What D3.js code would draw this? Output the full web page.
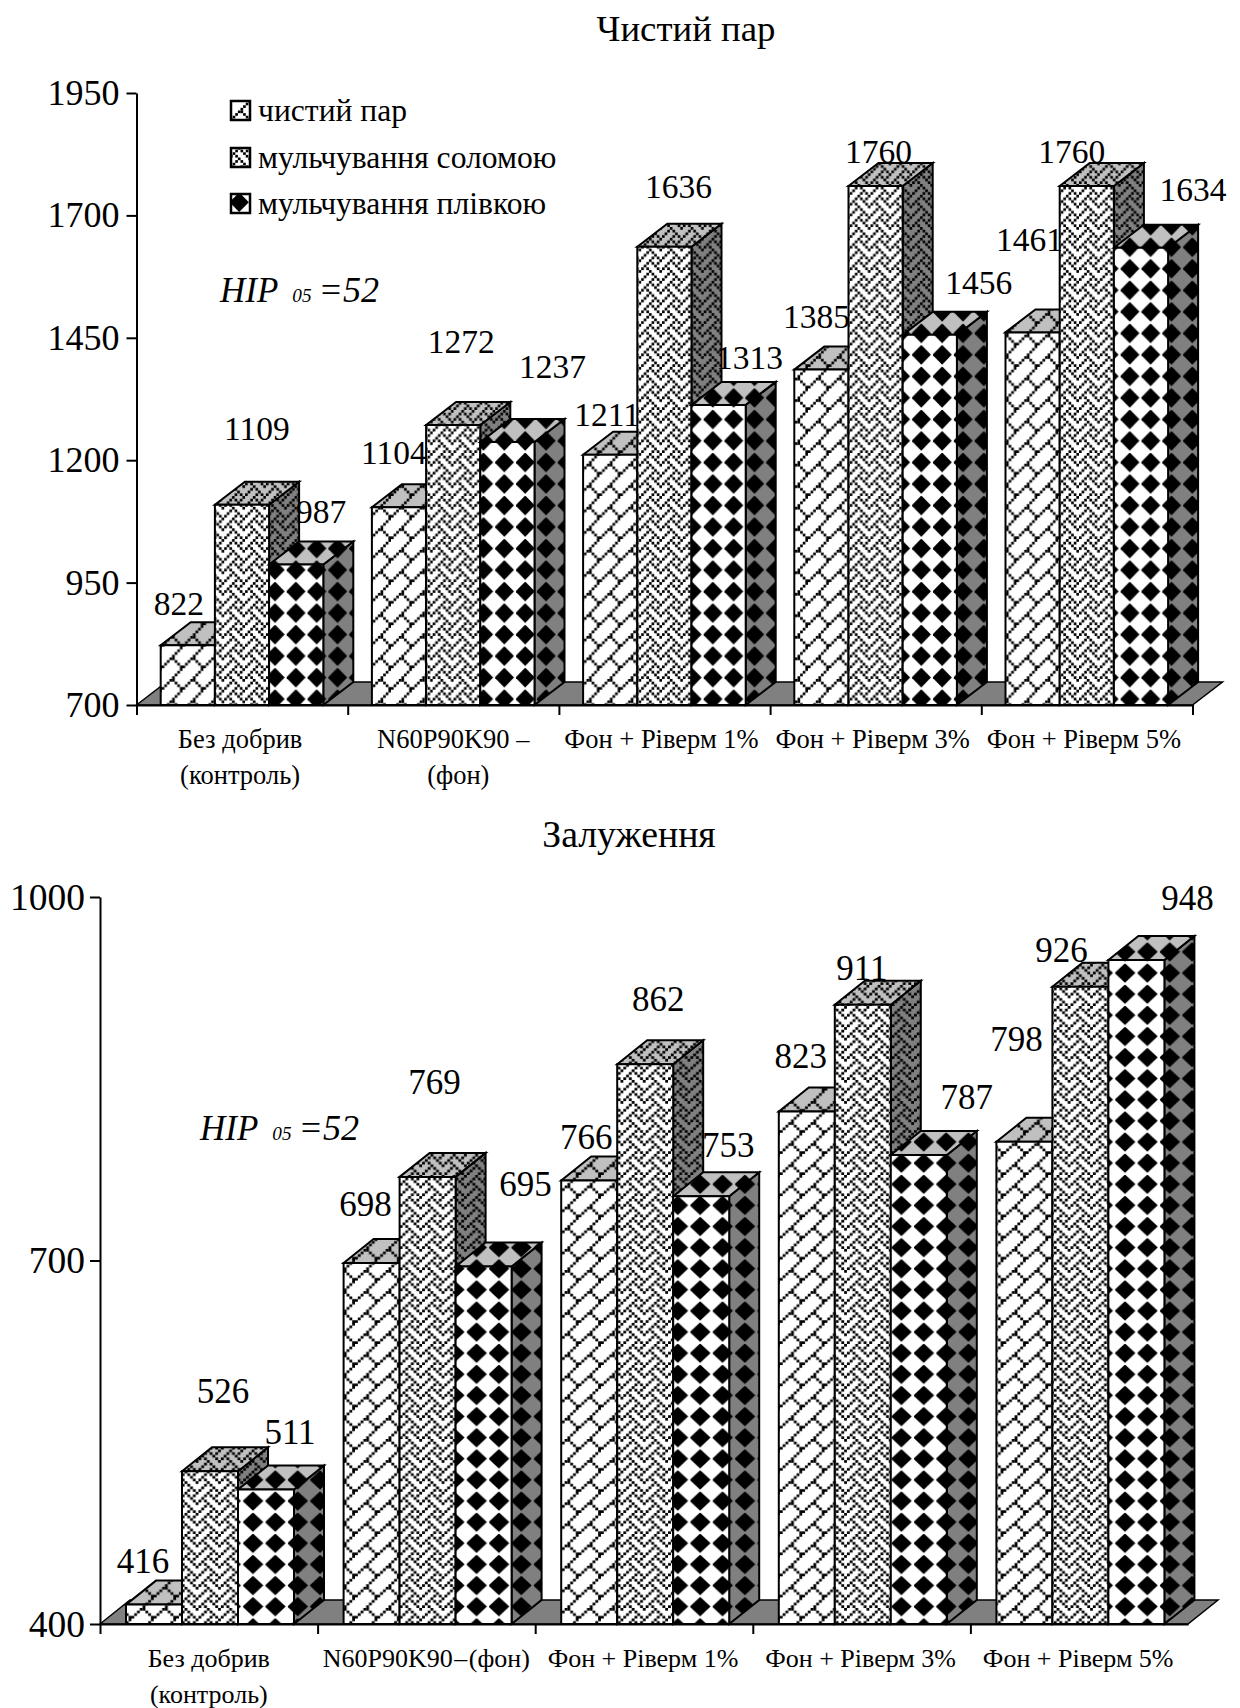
<!DOCTYPE html>
<html>
<head>
<meta charset="utf-8">
<style>
  html, body { margin: 0; background: #fff; }
  text { font-family: "Liberation Serif", serif; fill: #000; }
</style>
</head>
<body>
<svg id="chart" width="1240" height="1708"></svg>
<script src="https://cdn.jsdelivr.net/npm/d3@7"></script>
<script>
let seriesNames = ['чистий пар', 'мульчування соломою', 'мульчування плівкою'];

let categoriesTop = [['Без добрив', '(контроль)'], ['N60P90K90 –', '(фон)'], ['Фон + Ріверм 1%'], ['Фон + Ріверм 3%'], ['Фон + Ріверм 5%']];
let categoriesBottom = [['Без добрив', '(контроль)'], ['N60P90K90 – (фон)'], ['Фон + Ріверм 1%'], ['Фон + Ріверм 3%'], ['Фон + Ріверм 5%']];

let cleanFallowTop = [822, 1104, 1211, 1385, 1461];
let strawTop = [1109, 1272, 1636, 1760, 1760];
let filmTop = [987, 1237, 1313, 1456, 1634];

let cleanFallowBottom = [416, 698, 766, 823, 798];
let strawBottom = [526, 769, 862, 911, 926];
let filmBottom = [511, 695, 753, 787, 948];

let ticksTop = [700, 950, 1200, 1450, 1700, 1950];
let ticksBottom = [400, 700, 1000];

// hand placed data labels, offset from the middle of the front face top edge
let nudgesTop = [
  [[-9, -42], [-5, -55], [-3, -41], [-5, -53], [-3, -93]],
  [[15, -76], [8, -84], [14, -60], [3, -35], [-15, -35]],
  [[25, -53], [45, -76], [31, -48], [49, -53], [52, -58]]
];
let nudgesBottom = [
  [[-11, -44], [-6, -59], [-3, -44], [-6, -56], [-8, -103]],
  [[13, -81], [7, -95], [13, -65], [-1, -37], [-19, -37]],
  [[24, -58], [42, -83], [27, -52], [48, -58], [51, -62]]
];

// 8x8 office hatch bitmaps, the diamond one is drawn as a polygon instead
let brickBits = [0x01, 0x02, 0x04, 0x08, 0x18, 0x24, 0x42, 0x81];
let weaveBits = [0x11, 0x2A, 0x44, 0xA2, 0x11, 0x28, 0x44, 0x8A];
let hatches = [brickBits, weaveBits, null];

let $svg = d3.select('#chart');
let $defs = $svg.append('defs');

$defs.append('filter')
  .attr('id', 'soft')
  .attr('x', '-5%').attr('y', '-5%').attr('width', '110%').attr('height', '110%')
  .append('feGaussianBlur')
  .attr('stdDeviation', 0.75);

function addPattern(id, bits, bg, cellX, cellY, originX, originY) {
  let $p = $defs.append('pattern')
    .attr('id', id)
    .attr('patternUnits', 'userSpaceOnUse')
    .attr('width', cellX * 8)
    .attr('height', cellY * 8)
    .attr('patternTransform', `translate(${originX},${originY})`);

  $p.append('rect')
    .attr('width', cellX * 8)
    .attr('height', cellY * 8)
    .attr('fill', bg);

  if (!bits) {
    let half = 3.7;
    $p.append('path')
      .attr('d', d3.line()([
        [3.5 * cellX, (3.5 - half) * cellY],
        [(3.5 + half) * cellX, 3.5 * cellY],
        [3.5 * cellX, (3.5 + half) * cellY],
        [(3.5 - half) * cellX, 3.5 * cellY]
      ]) + 'Z')
      .attr('fill', '#000');
    return;
  }

  bits.forEach((row, r) => {
    d3.range(8).forEach(c => {
      if (row & (0x80 >> c)) {
        $p.append('rect')
          .attr('x', c * cellX)
          .attr('y', r * cellY)
          .attr('width', cellX + 0.05)
          .attr('height', cellY + 0.05)
          .attr('fill', '#000');
      }
    });
  });
}

function drawChart(cfg) {
  let $g = $svg.append('g');

  let x0 = d3.scaleBand()
    .domain(d3.range(cfg.categories.length))
    .range([cfg.left, cfg.right]);

  let x1 = d3.scaleBand()
    .domain(d3.range(cfg.series.length))
    .range([cfg.barInset, cfg.barInset + cfg.barWidth * cfg.series.length]);

  let y = d3.scaleLinear()
    .domain(d3.extent(cfg.ticks))
    .range([cfg.base, cfg.top]);

  let tickPos = d3.scaleLinear()
    .domain([0, cfg.categories.length])
    .range([cfg.left, cfg.right]);

  // one set of patterns per face shade
  cfg.series.forEach((s, i) => {
    let org = cfg.patternOrigin;
    addPattern(`${cfg.id}-front-${i}`, hatches[i], '#fff', cfg.cellX, cfg.cellY, org[0], org[1]);
    addPattern(`${cfg.id}-top-${i}`, hatches[i], '#c0c0c0', cfg.cellX, cfg.cellY, org[0], org[1]);
    addPattern(`${cfg.id}-side-${i}`, hatches[i], '#808080', cfg.cellX, cfg.cellY, org[0], org[1]);
  });

  // floor
  $g.append('path')
    .attr('d', d3.line()([
      [cfg.left, cfg.base],
      [cfg.left + cfg.depthX, cfg.base - cfg.depthY],
      [cfg.right + cfg.depthX, cfg.base - cfg.depthY],
      [cfg.right, cfg.base]
    ]) + 'Z')
    .attr('fill', '#808080')
    .attr('stroke', '#000')
    .attr('stroke-width', 1.5);

  // bars, left to right so the next one covers the previous side
  cfg.categories.forEach((c, k) => {
    cfg.series.forEach((s, i) => {
      let left = x0(k) + x1(i);
      let right = left + x1.bandwidth();
      let top = y(s[k]);
      let dx = cfg.depthX, dy = cfg.depthY;

      let faces = [
        ['side', [[right, top], [right + dx, top - dy], [right + dx, cfg.base - dy], [right, cfg.base]]],
        ['top', [[left, top], [left + dx, top - dy], [right + dx, top - dy], [right, top]]],
        ['front', [[left, top], [right, top], [right, cfg.base], [left, cfg.base]]]
      ];

      faces.forEach(f => {
        let d = d3.line()(f[1]) + 'Z';
        $g.append('path')
          .attr('d', d)
          .attr('fill', `url(#${cfg.id}-${f[0]}-${i})`)
          .attr('filter', 'url(#soft)');
        $g.append('path')
          .attr('d', d)
          .attr('fill', 'none')
          .attr('stroke', '#000')
          .attr('stroke-width', 2);
      });
    });
  });

  // axes
  let $yAxis = $g.append('g')
    .attr('transform', `translate(${cfg.left},0)`)
    .call(d3.axisLeft(y).tickValues(cfg.ticks).tickSize(10).tickSizeOuter(0).tickPadding(cfg.tickPad).tickFormat(d3.format('d')));

  let $xAxis = $g.append('g')
    .attr('transform', `translate(0,${cfg.base})`)
    .call(d3.axisBottom(tickPos).tickValues(d3.range(cfg.xTickCount)).tickSize(10).tickSizeOuter(0).tickFormat(''));

  [$yAxis, $xAxis].forEach($a => {
    $a.selectAll('path, line').attr('stroke', '#000').attr('stroke-width', 2);
  });

  $yAxis.selectAll('text')
    .attr('font-size', cfg.tickFont)
    .attr('font-family', '"Liberation Serif", serif')
    .attr('fill', '#000');

  // category labels
  cfg.categories.forEach((lines, k) => {
    lines.forEach((line, l) => {
      $g.append('text')
        .attr('x', x0(k) + x0.bandwidth() / 2 + cfg.catShift[k][l])
        .attr('y', cfg.catY + l * cfg.catLine)
        .attr('text-anchor', 'middle')
        .attr('font-size', cfg.catFont)
        .attr('word-spacing', cfg.catWordGap[k])
        .text(line);
    });
  });

  // data labels
  cfg.series.forEach((s, i) => {
    s.forEach((v, k) => {
      $g.append('text')
        .attr('x', x0(k) + x1(i) + x1.bandwidth() / 2 + cfg.nudges[i][k][0])
        .attr('y', y(v) + cfg.nudges[i][k][1])
        .attr('dy', '.35em')
        .attr('text-anchor', 'middle')
        .attr('font-size', cfg.labelFont)
        .text(v);
    });
  });

  $g.append('text')
    .attr('x', cfg.titleX)
    .attr('y', cfg.titleY)
    .attr('text-anchor', 'middle')
    .attr('font-size', cfg.titleFont)
    .text(cfg.title);

  // HIP note
  let $hip = $g.append('text')
    .attr('x', cfg.hipX)
    .attr('y', cfg.hipY)
    .attr('font-style', 'italic')
    .attr('font-size', cfg.hipFont);
  $hip.append('tspan').text('НІР');
  $hip.append('tspan').attr('font-size', cfg.hipFont * 0.55).attr('dx', 14).text('05');
  $hip.append('tspan').attr('dx', 7).attr('font-size', cfg.hipFont * 1.03).text('=52');
}

drawChart({
  id: 'top',
  title: 'Чистий пар',
  titleX: 686, titleY: 41, titleFont: 36.8,
  categories: categoriesTop,
  series: [cleanFallowTop, strawTop, filmTop],
  ticks: ticksTop,
  nudges: nudgesTop,
  left: 136.5, right: 1192.5, top: 93, base: 705,
  barInset: 24.2, barWidth: 54.2,
  depthX: 30, depthY: 23, xTickCount: 6,
  cellX: 2.606, cellY: 2.69, patternOrigin: [265.9, 560.6],
  tickFont: 36, tickPad: 7, labelFont: 33.5, catFont: 26.5, catY: 748, catLine: 36,
  catShift: [[-2, -2], [0, 5], [-3], [-3], [-3]],
  catWordGap: [0, 0, 0, 0, 0],
  hipX: 220, hipY: 302, hipFont: 35
});

drawChart({
  id: 'bottom',
  title: 'Залуження',
  titleX: 629, titleY: 847, titleFont: 37.8,
  categories: categoriesBottom,
  series: [cleanFallowBottom, strawBottom, filmBottom],
  ticks: ticksBottom,
  nudges: nudgesBottom,
  left: 100, right: 1188, top: 897, base: 1624,
  barInset: 26, barWidth: 56,
  depthX: 30, depthY: 24, xTickCount: 5,
  cellX: 2.795, cellY: 2.64, patternOrigin: [243.2, 1491.8],
  tickFont: 37.5, tickPad: 5, labelFont: 35, catFont: 26, catY: 1667, catLine: 36,
  catShift: [[0, 0], [0], [-1], [-1], [-1]],
  catWordGap: [0, -5, 0, 0, 0],
  hipX: 200, hipY: 1140, hipFont: 35
});

// legend
let legendYs = [100, 147, 193];
seriesNames.forEach((name, i) => {
  addPattern(`legend-${i}`, hatches[i], '#fff', 21 / 8, 21 / 8, 230, legendYs[i]);

  $svg.append('rect')
    .attr('x', 231)
    .attr('y', legendYs[i] + 1)
    .attr('width', 19)
    .attr('height', 19)
    .attr('fill', `url(#legend-${i})`)
    .attr('filter', 'url(#soft)');

  $svg.append('rect')
    .attr('x', 231)
    .attr('y', legendYs[i] + 1)
    .attr('width', 19)
    .attr('height', 19)
    .attr('fill', 'none')
    .attr('stroke', '#000')
    .attr('stroke-width', 2.5);

  $svg.append('text')
    .attr('x', 258)
    .attr('y', legendYs[i] + 21)
    .attr('font-size', 31.6)
    .text(name);
});
</script>
</body>
</html>
